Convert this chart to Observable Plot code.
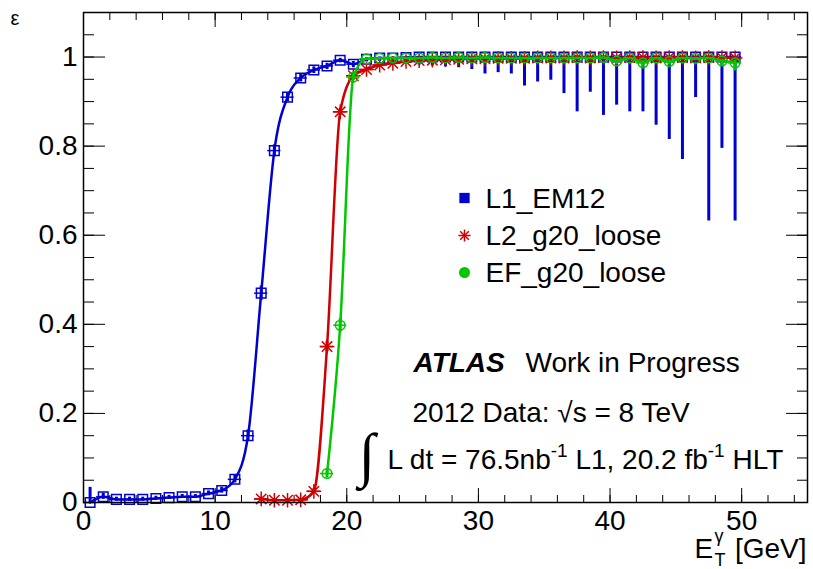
<!DOCTYPE html>
<html><head><meta charset="utf-8">
<script src="https://cdn.jsdelivr.net/npm/d3@7"></script>
<script src="https://cdn.jsdelivr.net/npm/@observablehq/plot@0.6"></script>
<style>
html,body{margin:0;padding:0;background:#fff;}
#chart svg{display:block;}
</style></head><body><div id="chart"></div>
<script>
// ---- data ----
const l1X = [0.5,1.5,2.5,3.5,4.5,5.5,6.5,7.5,8.5,9.5,10.5,11.5,12.5,13.5,14.5,15.5,16.5,17.5,18.5,19.5,20.5,21.5,22.5,23.5,24.5,25.5,26.5,27.5,28.5,29.5,30.5,31.5,32.5,33.5,34.5,35.5,36.5,37.5,38.5,39.5,40.5,41.5,42.5,43.5,44.5,45.5,46.5,47.5,48.5,49.5];
const l1Eff = [0.000,0.013,0.007,0.007,0.007,0.009,0.011,0.013,0.013,0.020,0.027,0.052,0.150,0.470,0.790,0.910,0.953,0.971,0.980,0.993,0.984,0.995,0.998,0.998,0.999,1,1,1,1,1,1,1,1,1,1,1,1,1,1,1,1,1,1,1,1,1,1,1,1,1];
const l1ErrLow = [0,0.006,0.004,0.004,0.004,0.004,0.004,0.004,0.004,0.005,0.006,0.008,0.012,0.016,0.014,0.011,0.009,0.008,0.008,0.006,0.008,0.006,0.008,0.010,0.012,0.018,0.020,0.022,0.024,0.028,0.038,0.035,0.038,0.065,0.056,0.052,0.082,0.123,0.079,0.131,0.108,0.123,0.123,0.153,0.185,0.230,0.091,0.368,0.205,0.368];
const l1ErrHigh = [0.034,0.008,0.005,0.005,0.005,0.005,0.005,0.005,0.005,0.006,0.007,0.009,0.013,0.016,0.013,0.010,0.008,0.007,0.006,0.004,0.006,0.004,0.002,0.002,0.001,0,0,0,0,0,0,0,0,0,0,0,0,0,0,0,0,0,0,0,0,0,0,0,0,0];

const l2X = [13.5,14.5,15.5,16.5,17.5,18.5,19.5,20.5,21.5,22.5,23.5,24.5,25.5,26.5,27.5,28.5,29.5,30.5,31.5,32.5,33.5,34.5,35.5,36.5,37.5,38.5,39.5,40.5,41.5,42.5,43.5,44.5,45.5,46.5,47.5,48.5,49.5];
const l2Eff = [0.008,0.005,0.005,0.006,0.025,0.350,0.877,0.958,0.972,0.982,0.986,0.990,0.992,0.993,0.994,0.995,0.996,0.996,0.997,0.997,0.997,0.998,0.998,0.998,0.999,0.998,0.999,0.998,0.999,0.999,0.998,0.999,0.999,0.998,0.999,0.999,0.998];
const l2Err = [0.004,0.003,0.003,0.003,0.006,0.012,0.008,0.005,0.004,0.003,0.003,0.002,0.002,0.002,0.002,0.002,0.002,0.002,0.002,0.002,0.002,0.002,0.002,0.002,0.002,0.002,0.002,0.002,0.002,0.002,0.002,0.002,0.002,0.002,0.002,0.002,0.002];

const efX = [18.5,19.5,20.5,21.5,22.5,23.5,24.5,25.5,26.5,27.5,28.5,29.5,30.5,31.5,32.5,33.5,34.5,35.5,36.5,37.5,38.5,39.5,40.5,41.5,42.5,43.5,44.5,45.5,46.5,47.5,48.5,49.5];
const efEff = [0.065,0.398,0.955,0.996,0.997,0.998,0.998,0.998,0.999,0.998,0.999,0.998,0.999,0.998,0.998,0.998,0.998,0.998,0.998,0.998,0.998,0.999,0.991,0.998,0.987,0.998,0.990,0.998,0.997,0.998,0.991,0.987];
const efErrLow = [0.010,0.015,0.008,0.003,0.002,0.002,0.002,0.002,0.002,0.002,0.002,0.002,0.002,0.002,0.002,0.002,0.002,0.002,0.002,0.002,0.002,0.002,0.008,0.002,0.010,0.002,0.008,0.002,0.004,0.002,0.010,0.018];
const efErrHigh = [0.010,0.015,0.007,0.002,0.002,0.001,0.001,0.001,0.001,0.001,0.001,0.001,0.001,0.001,0.001,0.001,0.001,0.001,0.001,0.001,0.001,0.001,0.004,0.001,0.005,0.001,0.004,0.001,0.002,0.001,0.004,0.006];

const binHalfWidth = 0.5;
const seriesNames = ["L1_EM12", "L2_g20_loose", "EF_g20_loose"];
const seriesColors = ["#0000d0", "#d00000", "#00c800"];
const yTicks = [0, 0.2, 0.4, 0.6, 0.8, 1];
const yMinorTicks = [0,0.05,0.1,0.15,0.2,0.25,0.3,0.35,0.4,0.45,0.5,0.55,0.6,0.65,0.7,0.75,0.8,0.85,0.9,0.95,1,1.05];
const xTicks = [0, 10, 20, 30, 40, 50];
const xMinorTicks = [0,2,4,6,8,10,12,14,16,18,20,22,24,26,28,30,32,34,36,38,40,42,44,46,48,50,52,54];
const annotation = {
  atlas: "ATLAS",
  status: "Work in Progress",
  energy: "2012 Data: \u221As = 8 TeV",
  lumi: "L dt = 76.5nb^{-1} L1, 20.2 fb^{-1} HLT"
};

// ---- tables ----
const l1 = l1X.map((x, i) => ({x, y: l1Eff[i], lo: l1Eff[i] - l1ErrLow[i], hi: l1Eff[i] + l1ErrHigh[i]}));
const l2 = l2X.map((x, i) => ({x, y: l2Eff[i], lo: l2Eff[i] - l2Err[i], hi: Math.min(1, l2Eff[i] + l2Err[i])}));
const ef = efX.map((x, i) => ({x, y: efEff[i], lo: efEff[i] - efErrLow[i], hi: Math.min(1, efEff[i] + efErrHigh[i])}));

const FS = 28;
const FONT = "Liberation Sans, Arial, Helvetica, sans-serif";

function seriesMarks(data, color, markerMarks, lineW) {
  return [
    Plot.ruleX(data, {x: "x", y1: "lo", y2: "hi", stroke: color, strokeWidth: 3}),
    Plot.ruleY(data, {y: "y", x1: d => d.x - binHalfWidth, x2: d => d.x + binHalfWidth, stroke: color, strokeWidth: 1.5}),
    Plot.line(data, {x: "x", y: "y", stroke: color, strokeWidth: lineW, curve: "monotone-x"}),
    ...markerMarks
  ];
}

const legendRow = (i, dy) => Plot.text([seriesNames[i]], {text: d => d, frameAnchor: "top-left", dx: 402, dy, textAnchor: "start", lineAnchor: "bottom", fontSize: FS, fill: "black"});

const chart = Plot.plot({
  width: 813,
  height: 569,
  marginLeft: 83,
  marginRight: 6,
  marginTop: 12,
  marginBottom: 67,
  style: {fontFamily: FONT, background: "white", color: "black"},
  x: {domain: [0, 55]},
  y: {domain: [0, 1.1]},
  marks: [
    // axes ticks (inward, ROOT style)
    Plot.axisY({ticks: yTicks, anchor: "left", tickSize: 22, insetLeft: 22, fill: "none", tickFormat: () => "", label: null}),
    Plot.axisY({ticks: yMinorTicks, anchor: "left", tickSize: 11, insetLeft: 11, fill: "none", tickFormat: () => "", label: null}),
    Plot.axisY({ticks: yTicks, anchor: "right", tickSize: 22, insetRight: 22, fill: "none", tickFormat: () => "", label: null}),
    Plot.axisY({ticks: yMinorTicks, anchor: "right", tickSize: 11, insetRight: 11, fill: "none", tickFormat: () => "", label: null}),
    Plot.axisX({ticks: xTicks, anchor: "bottom", tickSize: 14, insetBottom: 14, fill: "none", tickFormat: () => "", label: null}),
    Plot.axisX({ticks: xMinorTicks, anchor: "bottom", tickSize: 7, insetBottom: 7, fill: "none", tickFormat: () => "", label: null}),
    Plot.axisX({ticks: xTicks, anchor: "top", tickSize: 14, insetTop: 14, fill: "none", tickFormat: () => "", label: null}),
    Plot.axisX({ticks: xMinorTicks, anchor: "top", tickSize: 7, insetTop: 7, fill: "none", tickFormat: () => "", label: null}),
    // tick labels
    Plot.axisY({ticks: yTicks, anchor: "left", tickSize: 0, tickPadding: 6, fontSize: FS, tickFormat: d => String(d), label: null}),
    Plot.axisX({ticks: xTicks, anchor: "bottom", tickSize: 0, tickPadding: 8, fontSize: FS, tickFormat: d => String(d), label: null}),
    // series
    ...seriesMarks(l1, seriesColors[0], [
      Plot.dot(l1, {x: "x", y: "y", symbol: "square", r: 5.4, stroke: seriesColors[0], fill: "none", strokeWidth: 1.5})
    ], 2.5),
    ...seriesMarks(l2, seriesColors[1], [
      Plot.dot(l2, {x: "x", y: "y", symbol: "plus", r: 4.8, stroke: seriesColors[1], strokeWidth: 1.5}),
      Plot.dot(l2, {x: "x", y: "y", symbol: "times", r: 4.8, stroke: seriesColors[1], strokeWidth: 1.5})
    ], 2.5),
    ...seriesMarks(ef, seriesColors[2], [
      Plot.dot(ef, {x: "x", y: "y", symbol: "circle", r: 4.8, stroke: seriesColors[2], fill: "none", strokeWidth: 1.5})
    ], 2.5),
    Plot.frame({stroke: "black", strokeWidth: 1.5}),
    // legend
    Plot.dot([seriesNames[0]], {frameAnchor: "top-left", dx: 381, dy: 185.5, symbol: "square", r: 5.8, fill: seriesColors[0]}),
    Plot.dot([seriesNames[1]], {frameAnchor: "top-left", dx: 381, dy: 223, symbol: "plus", r: 4, stroke: seriesColors[1], strokeWidth: 1.5}),
    Plot.dot([seriesNames[1]], {frameAnchor: "top-left", dx: 381, dy: 223, symbol: "times", r: 4, stroke: seriesColors[1], strokeWidth: 1.5}),
    Plot.dot([seriesNames[2]], {frameAnchor: "top-left", dx: 381, dy: 260, symbol: "circle", r: 5.5, fill: seriesColors[2]}),
    legendRow(0, 195),
    legendRow(1, 232),
    legendRow(2, 269),
    // annotations
    Plot.text([annotation.atlas], {text: d => d, frameAnchor: "top-left", dx: 330, dy: 359, textAnchor: "start", lineAnchor: "bottom", fontSize: FS, fontWeight: "bold", fontStyle: "italic", fill: "black"}),
    Plot.text([annotation.status], {text: d => d, frameAnchor: "top-left", dx: 442, dy: 359, textAnchor: "start", lineAnchor: "bottom", fontSize: FS, fill: "black"}),
    Plot.text([annotation.energy], {text: d => d, frameAnchor: "top-left", dx: 329, dy: 409, textAnchor: "start", lineAnchor: "bottom", fontSize: FS, fill: "black"}),
    Plot.text(["\u222B"], {text: d => d, frameAnchor: "top-left", dx: 275, dy: 462, textAnchor: "start", lineAnchor: "bottom", fontSize: 60, fontFamily: "Liberation Serif, serif", fill: "black"}),
    Plot.text([annotation.lumi], {text: d => d, frameAnchor: "top-left", dx: 304, dy: 456, textAnchor: "start", lineAnchor: "bottom", fontSize: FS, fill: "black"}),
    // axis titles
    Plot.text(["\u03B5"], {text: d => d, frameAnchor: "top-left", dx: -73, dy: 12, textAnchor: "start", lineAnchor: "bottom", fontSize: 20, fill: "black"}),
    Plot.text(["E"], {text: d => d, frameAnchor: "bottom-left", dx: 611, dy: 55, textAnchor: "start", lineAnchor: "bottom", fontSize: FS, fill: "black"}),
    Plot.text(["T"], {text: d => d, frameAnchor: "bottom-left", dx: 631, dy: 63, textAnchor: "start", lineAnchor: "bottom", fontSize: 18, fill: "black"}),
    Plot.text(["\u03B3"], {text: d => d, frameAnchor: "bottom-left", dx: 631, dy: 39, textAnchor: "start", lineAnchor: "bottom", fontSize: 18, fill: "black"}),
    Plot.text(["[GeV]"], {text: d => d, frameAnchor: "bottom-right", dx: -1, dy: 55, textAnchor: "end", lineAnchor: "bottom", fontSize: FS, fill: "black"})
  ]
});

// superscripts in text written as ^{...}
d3.select(chart).selectAll("text").each(function () {
  const t = this.textContent;
  if (!t.includes("^{")) return;
  const fs = parseFloat(this.getAttribute("font-size")) || FS;
  const parts = [];
  const re = /\^\{([^}]*)\}/g;
  let last = 0, m;
  while ((m = re.exec(t))) {
    if (m.index > last) parts.push({s: t.slice(last, m.index), sup: false});
    parts.push({s: m[1], sup: true});
    last = re.lastIndex;
  }
  if (last < t.length) parts.push({s: t.slice(last), sup: false});
  this.textContent = "";
  let cur = 0;
  parts.forEach(p => {
    const target = p.sup ? -0.42 * fs : 0;
    const ts = d3.select(this).append("tspan").text(p.s);
    if (target - cur !== 0) ts.attr("dy", target - cur);
    if (p.sup) ts.attr("font-size", 0.68 * fs);
    cur = target;
  });
});

document.getElementById("chart").appendChild(chart);
</script>
</body></html>
